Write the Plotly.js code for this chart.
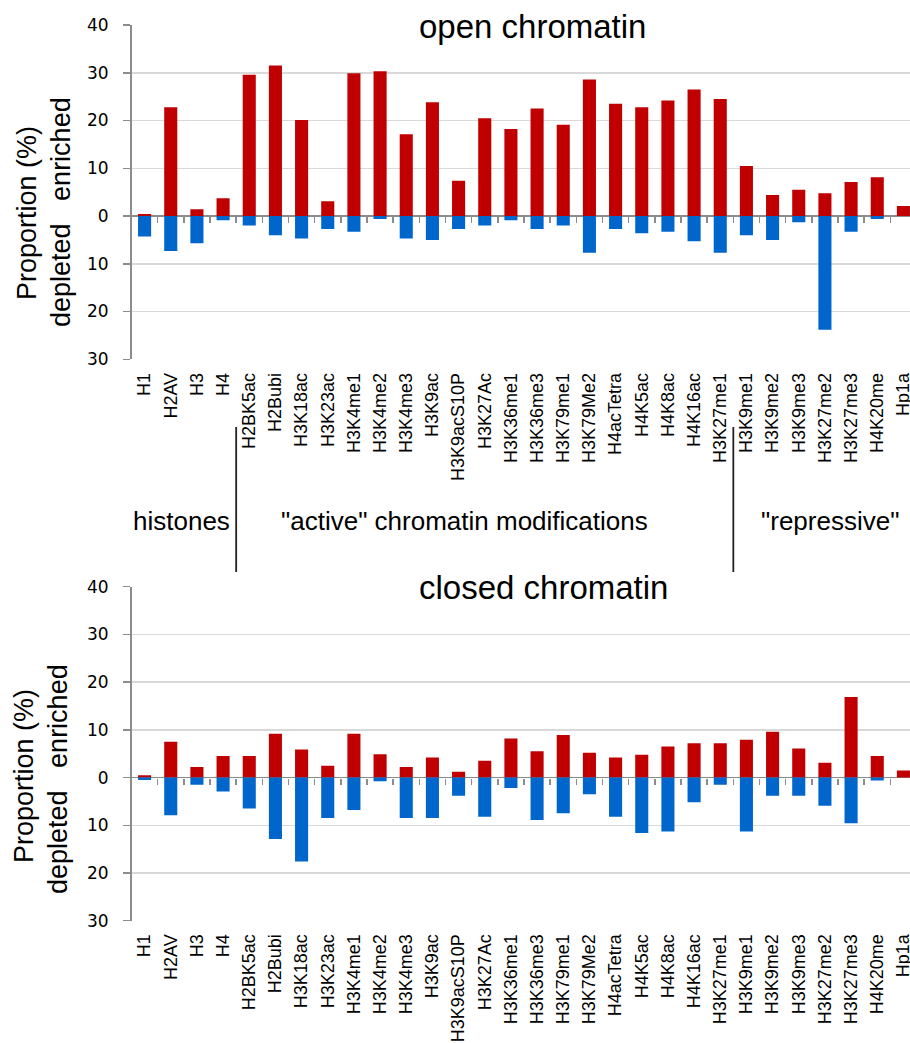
<!DOCTYPE html>
<html>
<head>
<meta charset="utf-8">
<script src="https://cdn.plot.ly/plotly-3.0.1.min.js"></script>
<style>
html, body { margin: 0; padding: 0; overflow: hidden; background: #fff; }
#chart { width: 920px; height: 1043px; }
</style>
</head>
<body>
<div id="chart"></div>
<script>
const categories = ["H1","H2AV","H3","H4","H2BK5ac","H2Bubi","H3K18ac","H3K23ac","H3K4me1","H3K4me2","H3K4me3","H3K9ac","H3K9acS10P","H3K27Ac","H3K36me1","H3K36me3","H3K79me1","H3K79Me2","H4acTetra","H4K5ac","H4K8ac","H4K16ac","H3K27me1","H3K9me1","H3K9me2","H3K9me3","H3K27me2","H3K27me3","H4K20me","Hp1a"];
const openEnriched = [0.4, 22.8, 1.4, 3.7, 29.6, 31.5, 20.1, 3.1, 29.9, 30.3, 17.1, 23.8, 7.4, 20.5, 18.2, 22.5, 19.1, 28.6, 23.5, 22.8, 24.2, 26.5, 24.5, 10.5, 4.4, 5.5, 4.75, 7.1, 8.1, 2.1];
const openDepleted = [4.3, 7.3, 5.7, 0.9, 2.0, 4.0, 4.7, 2.7, 3.3, 0.6, 4.7, 5.0, 2.7, 2.0, 0.9, 2.7, 2.0, 7.7, 2.7, 3.6, 3.3, 5.3, 7.7, 4.0, 5.0, 1.3, 23.8, 3.3, 0.6, 0];
const closedEnriched = [0.5, 7.5, 2.2, 4.5, 4.5, 9.2, 5.9, 2.5, 9.2, 4.9, 2.2, 4.2, 1.2, 3.5, 8.2, 5.5, 8.9, 5.2, 4.2, 4.8, 6.5, 7.2, 7.2, 7.9, 9.6, 6.1, 3.1, 16.9, 4.5, 1.5];
const closedDepleted = [0.5, 7.9, 1.5, 2.9, 6.5, 12.9, 17.6, 8.5, 6.8, 0.8, 8.5, 8.5, 3.8, 8.2, 2.2, 8.9, 7.5, 3.5, 8.2, 11.6, 11.3, 5.2, 1.5, 11.3, 3.8, 3.8, 5.9, 9.6, 0.6, 0];
const yTickVals = [-30, -20, -10, 0, 10, 20, 30, 40];
const yTickText = ["30", "20", "10", "0", "10", "20", "30", "40"];
const panelTitles = ["open chromatin", "closed chromatin"];
const groupLabels = ["histones", "\"active\" chromatin modifications", "\"repressive\""];
const groupDividers = [3.5, 22.5];

const W = 920, H = 1043;
const RED = "#C00000", BLUE = "#0066CC";
const GRID = "#D9D9D9", AXIS = "#8C8C8C";
const yRange = [-30, 40];
const xRange = [-0.5, categories.length - 0.5];
const xDom = [131.5 / W, 916.5 / W];
const topDom = [1 - 359.3 / H, 1 - 25 / H];
const botDom = [1 - 920.7 / H, 1 - 586.7 / H];
const zeroPos = d => d[0] + (0 - yRange[0]) / (yRange[1] - yRange[0]) * (d[1] - d[0]);
const neg = a => a.map(v => -v);

function bar(y, color, xa, ya) {
  return { type: "bar", x: categories, y: y, xaxis: xa, yaxis: ya,
    marker: { color: color, line: { width: 0 } }, hoverinfo: "x+y", showlegend: false };
}
function dummy(xa, ya) {
  return { type: "scatter", mode: "markers", x: categories, y: categories.map(() => 0),
    xaxis: xa, yaxis: ya, marker: { opacity: 0, size: 1 }, hoverinfo: "skip", showlegend: false };
}

const traces = [
  bar(openEnriched, RED, "x", "y"),
  bar(neg(openDepleted), BLUE, "x", "y"),
  bar(closedEnriched, RED, "x2", "y2"),
  bar(neg(closedDepleted), BLUE, "x2", "y2"),
  dummy("x3", "y"),
  dummy("x4", "y2")
];

function xMain(anchor) {
  return { domain: xDom, anchor: anchor, type: "category", range: xRange,
    showline: false, showgrid: false, zeroline: false, ticks: "",
    tickangle: -90, ticklabelstandoff: 9,
    tickfont: { family: "Liberation Sans, Arial, sans-serif", size: 18, color: "#000" },
    fixedrange: true };
}
function xZero(over, pos) {
  return { overlaying: over, anchor: "free", position: pos, type: "category", range: xRange,
    showline: false, showgrid: false, zeroline: false, showticklabels: false,
    ticks: "outside", tickson: "boundaries", ticklen: 6, tickwidth: 1.5, tickcolor: AXIS,
    fixedrange: true };
}
function yAx(anchor, dom) {
  return { domain: dom, anchor: anchor, range: yRange, tickvals: yTickVals, ticktext: yTickText,
    showline: true, linecolor: AXIS, linewidth: 1.5, showgrid: true, gridcolor: GRID, gridwidth: 1.5,
    zeroline: true, zerolinecolor: AXIS, zerolinewidth: 1.5,
    ticks: "outside", ticklen: 7, tickcolor: AXIS, tickwidth: 1.5, ticklabelstandoff: 11,
    tickfont: { family: "DejaVu Sans, Verdana, sans-serif", size: 17, color: "#000" },
    fixedrange: true };
}

const titleFont = { family: "Liberation Sans, Arial, sans-serif", size: 33, color: "#000" };
const labFont = { family: "Liberation Sans, Arial, sans-serif", size: 26, color: "#000" };
const axFont = { family: "Liberation Sans, Arial, sans-serif", size: 27, color: "#000" };

const annotations = [
  { text: panelTitles[0], xref: "paper", yref: "paper", x: 532 / W, y: 1 - 26 / H,
    showarrow: false, font: titleFont, bgcolor: "#fff", borderpad: 16, xanchor: "center", yanchor: "middle" },
  { text: panelTitles[1], xref: "paper", yref: "paper", x: 543 / W, y: 1 - 587 / H,
    showarrow: false, font: titleFont, bgcolor: "#fff", borderpad: 16, xanchor: "center", yanchor: "middle" },
  { text: groupLabels[0], xref: "paper", yref: "paper", x: 181.5 / W, y: 1 - 521 / H,
    showarrow: false, font: labFont, xanchor: "center", yanchor: "middle" },
  { text: groupLabels[1], xref: "paper", yref: "paper", x: 464.5 / W, y: 1 - 521 / H,
    showarrow: false, font: labFont, xanchor: "center", yanchor: "middle" },
  { text: groupLabels[2], xref: "paper", yref: "paper", x: 830 / W, y: 1 - 521 / H,
    showarrow: false, font: labFont, xanchor: "center", yanchor: "middle" },
  { text: "Proportion (%)", xref: "paper", yref: "paper", x: 27 / W, y: 1 - 213 / H, textangle: -90,
    showarrow: false, font: axFont, xanchor: "center", yanchor: "middle" },
  { text: "depleted\u00a0\u00a0 enriched", xref: "paper", yref: "paper", x: 61 / W, y: 1 - 212 / H, textangle: -90,
    showarrow: false, font: axFont, xanchor: "center", yanchor: "middle" },
  { text: "Proportion (%)", xref: "paper", yref: "paper", x: 24 / W, y: 1 - 776 / H, textangle: -90,
    showarrow: false, font: axFont, xanchor: "center", yanchor: "middle" },
  { text: "depleted\u00a0\u00a0 enriched", xref: "paper", yref: "paper", x: 58 / W, y: 1 - 779 / H, textangle: -90,
    showarrow: false, font: axFont, xanchor: "center", yanchor: "middle" }
];

const shapes = groupDividers.map(v => ({
  type: "line", xref: "x", yref: "paper", x0: v, x1: v,
  y0: 1 - 427 / H, y1: 1 - 572 / H, line: { color: "#222", width: 1.8 }
}));

const layout = {
  width: W, height: H,
  margin: { l: 0, r: 0, t: 0, b: 0 },
  paper_bgcolor: "#fff", plot_bgcolor: "rgba(0,0,0,0)",
  barmode: "relative", bargap: 0.5,
  showlegend: false,
  xaxis: xMain("y"),
  yaxis: yAx("x", topDom),
  xaxis2: xMain("y2"),
  yaxis2: yAx("x2", botDom),
  xaxis3: xZero("x", zeroPos(topDom)),
  xaxis4: xZero("x2", zeroPos(botDom)),
  annotations: annotations,
  shapes: shapes
};

Plotly.newPlot("chart", traces, layout, { displayModeBar: false, staticPlot: true });
</script>
</body>
</html>
